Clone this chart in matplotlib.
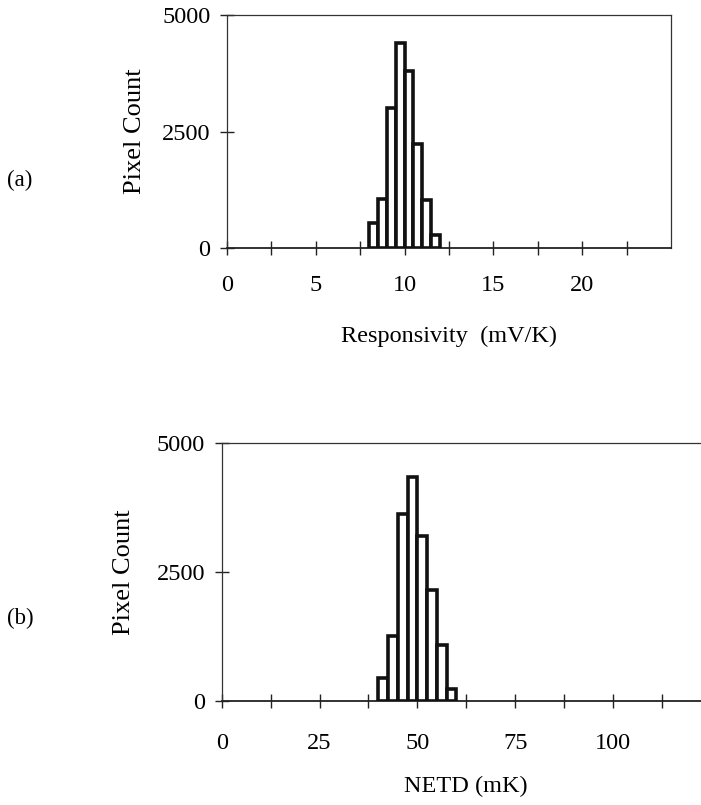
import numpy as np
import matplotlib
matplotlib.use("Agg")
import matplotlib.pyplot as plt

plt.rcParams["font.family"] = ["Liberation Serif", "DejaVu Serif"]

# (a) responsivity histogram, bins of 0.5 mV/K starting at 8.0
resp_edges = [8.0, 8.5, 9.0, 9.5, 10.0, 10.5, 11.0, 11.5]
resp_counts = [550, 1065, 3000, 4390, 3800, 2235, 1030, 290]
resp_width = 0.5
resp_ticks = [0, 2.5, 5, 7.5, 10, 12.5, 15, 17.5, 20, 22.5]
resp_ticklabels = ["0", "", "5", "", "10", "", "15", "", "20", ""]

# (b) NETD histogram, bins of 2.5 mK starting at 40
netd_edges = [40, 42.5, 45, 47.5, 50, 52.5, 55, 57.5]
netd_counts = [440, 1265, 3625, 4335, 3190, 2150, 1090, 235]
netd_width = 2.5
netd_ticks = [0, 12.5, 25, 37.5, 50, 62.5, 75, 87.5, 100, 112.5]
netd_ticklabels = ["0", "", "25", "", "50", "", "75", "", "100", ""]

count_ticks = [0, 2500, 5000]
count_ticklabels = ["0", "2500", "5000"]

fig = plt.figure(figsize=(7.01, 8.05), dpi=100)

ax1 = fig.add_axes([0.3238, 0.6915, 0.6334, 0.2899])
ax2 = fig.add_axes([0.3163, 0.1292, 0.6976, 0.3205])


def style_axis(ax, edges, counts, width, xmax, xticks, xticklabels, xlabel,
               ylabel_x, xlabel_y, xpad):
    ax.bar(edges, counts, width=width, align="edge", color="white",
           edgecolor="#111111", linewidth=2.6, zorder=3)
    ax.set_xlim(0, xmax)
    ax.set_ylim(0, 5000)
    ax.set_xticks(xticks)
    ax.set_xticklabels(xticklabels)
    ax.set_yticks(count_ticks)
    ax.set_yticklabels(count_ticklabels)
    ax.tick_params(axis="both", direction="inout", length=10, width=1,
                   labelsize=17.5, color="#222222")
    ax.tick_params(axis="x", pad=xpad)
    ax.tick_params(axis="y", pad=7)
    for side in ["left", "right", "top"]:
        ax.spines[side].set_linewidth(0.9)
        ax.spines[side].set_color("#333333")
    ax.spines["bottom"].set_linewidth(1.3)
    ax.spines["bottom"].set_color("#222222")
    ax.set_xlabel(xlabel, fontsize=17.5, va="top")
    ax.set_ylabel("Pixel Count", fontsize=19)
    ax.yaxis.set_label_coords(ylabel_x, 0.5)
    ax.xaxis.set_label_coords(0.5, xlabel_y)


style_axis(ax1, resp_edges, resp_counts, resp_width, 25, resp_ticks,
           resp_ticklabels, "Responsivity  (mV/K)", -0.182, -0.33, 14)
style_axis(ax2, netd_edges, netd_counts, netd_width, 125, netd_ticks,
           netd_ticklabels, "NETD (mK)", -0.177, -0.29, 18)

fig.text(0.010, 0.776, "(a)", fontsize=16.5, va="center", ha="left")
fig.text(0.010, 0.232, "(b)", fontsize=16.5, va="center", ha="left")

fig.savefig("out.png", dpi=100)
